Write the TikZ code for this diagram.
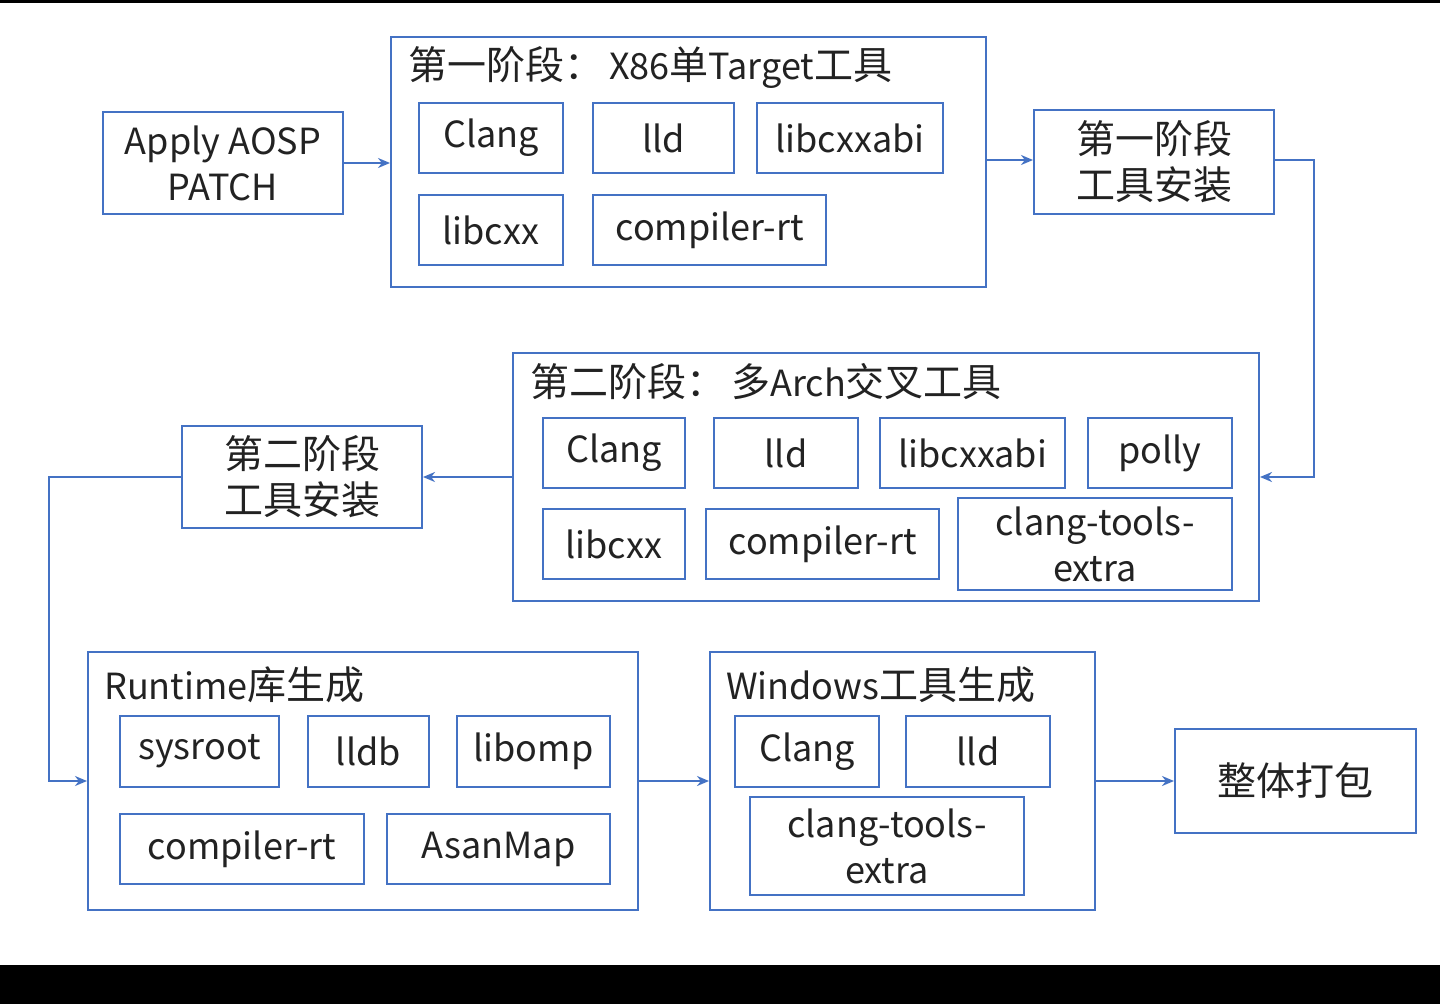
\documentclass[tikz,border=0pt]{standalone}
\usepackage{fontspec}
\setmainfont{Noto Sans CJK SC}
\usetikzlibrary{arrows.meta}
\definecolor{bblue}{HTML}{4472C4}
\definecolor{txt}{HTML}{222222}
\newcommand{\zh}[1]{{\fontsize{39}{46}\selectfont #1}}
\tikzset{
  box/.style={draw=bblue, line width=2pt, fill=white, inner sep=0pt, align=center, text=txt,
    font=\fontsize{36}{46}\selectfont},
  title/.style={anchor=west, inner sep=0pt, text=txt, font=\fontsize{36}{46}\selectfont},
  arr/.style={draw=bblue, line width=2pt, -{Stealth[length=12pt,width=10pt]}}
}
\begin{document}
\begin{tikzpicture}[x=1pt,y=-1pt]
\fill[white] (0,0) rectangle (1440,1004);
\useasboundingbox (0,0) rectangle (1440,1004);
\fill[black] (0,0) rectangle (1440,3);
\fill[black] (0,965) rectangle (1440,1004);

% stage 1
\node[box, minimum width=240, minimum height=102] (apply) at (223,163) {Apply AOSP\\PATCH};
\node[box, minimum width=595, minimum height=250] (s1) at (688.5,162) {};
\node[title] (s1t) at (408,68) {\zh{第一阶段：}\,X86\zh{单}Target\zh{工具}};
\node[box, minimum width=144, minimum height=70] (c1clang) at (491,138) {Clang};
\node[box, minimum width=141, minimum height=70] (c1lld) at (663.5,138) {lld};
\node[box, minimum width=186, minimum height=70] (c1abi) at (850,138) {libcxxabi};
\node[box, minimum width=144, minimum height=70] (c1cxx) at (491,230) {libcxx};
\node[box, minimum width=233, minimum height=70] (c1rt) at (709.5,230) {compiler-rt};
\node[box, minimum width=240, minimum height=104] (inst1) at (1154,162) {\zh{第一阶段}\\\zh{工具安装}};

% stage 2
\node[box, minimum width=746, minimum height=248] (s2) at (886,477) {};
\node[title] (s2t) at (530,382) {\zh{第二阶段：}\,\zh{多}Arch\zh{交叉工具}};
\node[box, minimum width=142, minimum height=70] (c2clang) at (614,453) {Clang};
\node[box, minimum width=144, minimum height=70] (c2lld) at (786,453) {lld};
\node[box, minimum width=185, minimum height=70] (c2abi) at (972.5,453) {libcxxabi};
\node[box, minimum width=144, minimum height=70] (c2polly) at (1160,453) {polly};
\node[box, minimum width=142, minimum height=70] (c2cxx) at (614,544) {libcxx};
\node[box, minimum width=233, minimum height=70] (c2rt) at (822.5,544) {compiler-rt};
\node[box, minimum width=274, minimum height=92] (c2cte) at (1095,544) {clang-tools-\\extra};
\node[box, minimum width=240, minimum height=102] (inst2) at (302,477) {\zh{第二阶段}\\\zh{工具安装}};

% runtime
\node[box, minimum width=550, minimum height=258] (rt) at (363,781) {};
\node[title] (rtt) at (104,685) {Runtime\zh{库生成}};
\node[box, minimum width=159, minimum height=71] (sysroot) at (199.5,751.5) {sysroot};
\node[box, minimum width=121, minimum height=71] (lldb) at (368.5,751.5) {lldb};
\node[box, minimum width=153, minimum height=71] (libomp) at (533.5,751.5) {libomp};
\node[box, minimum width=244, minimum height=70] (rtcrt) at (242,849) {compiler-rt};
\node[box, minimum width=223, minimum height=70] (asan) at (498.5,849) {AsanMap};

% windows
\node[box, minimum width=385, minimum height=258] (win) at (902.5,781) {};
\node[title] (wint) at (726,685) {Windows\zh{工具生成}};
\node[box, minimum width=144, minimum height=71] (wclang) at (807,751.5) {Clang};
\node[box, minimum width=144, minimum height=71] (wlld) at (978,751.5) {lld};
\node[box, minimum width=274, minimum height=98] (wcte) at (887,846) {clang-tools-\\extra};

\node[box, minimum width=241, minimum height=104] (pkg) at (1295.5,781) {\zh{整体打包}};

% connectors
\draw[arr] (apply.east) -- (s1.west |- apply.east);
\coordinate (s1out) at ([yshift=2pt]s1.east);
\draw[arr] (s1out) -- (inst1.west |- s1out);
\coordinate (k1) at (1314,160);
\draw[arr] (inst1.east |- k1) -- (k1) |- (s2.east);
\draw[arr] (s2.west) -- (inst2.east);
\coordinate (k2) at (49,477);
\draw[arr] (inst2.west) -- (k2) |- (rt.west);
\draw[arr] (rt.east) -- (win.west);
\draw[arr] (win.east) -- (pkg.west);
\end{tikzpicture}
\end{document}
